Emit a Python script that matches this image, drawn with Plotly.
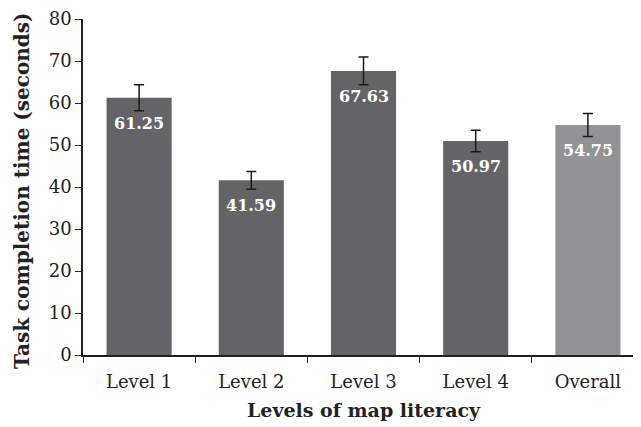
import plotly.graph_objects as go

# values
categories = ["Level 1", "Level 2", "Level 3", "Level 4", "Overall"]
times = [61.25, 41.59, 67.63, 50.97, 54.75]
errors = [3.1, 2.1, 3.3, 2.55, 2.75]
colors = ["#646466", "#646466", "#646466", "#646466", "#939396"]

FONT = "DejaVu Serif"

fig = go.Figure()
fig.add_trace(go.Bar(
    x=categories, y=times,
    marker=dict(color=colors, line=dict(width=0)),
    error_y=dict(type="data", array=errors, color="#1a1a1a", thickness=1.5, width=5),
    hoverinfo="skip",
))

# value labels just under the top of each bar
for c, v in zip(categories, times):
    fig.add_annotation(x=c, y=v, text=f"<b>{v:.2f}</b>", showarrow=False,
                       yanchor="top", yshift=-14,
                       font=dict(family=FONT, size=16, color="white"))

# y title as an annotation so it can sit close to the page edge
fig.add_annotation(text="<b>Task completion time (seconds)</b>", textangle=-90,
                   xref="paper", yref="paper", x=0, y=0.5, xanchor="center", yanchor="middle",
                   xshift=-61, yshift=-4, showarrow=False,
                   font=dict(family=FONT, size=20, color="#222222"))

# page body has an 8px margin, so the margins are trimmed by that much
fig.update_layout(
    width=641, height=427,
    margin=dict(l=75, r=5, t=11, b=80),
    plot_bgcolor="white", paper_bgcolor="white",
    bargap=0.42, showlegend=False,
    font=dict(family=FONT, size=18, color="#222222"),
)
fig.update_xaxes(
    range=[-0.5, 4.5], showline=True, linecolor="#222222", linewidth=1.5,
    ticks="outside", ticklen=6, tickcolor="#222222", tickson="boundaries",
    ticklabelstandoff=10, automargin=False,
    title=dict(text="<b>Levels of map literacy</b>", font=dict(size=19), standoff=12),
)
fig.update_yaxes(
    range=[0, 80], dtick=10, showline=True, linecolor="#222222", linewidth=1.5,
    ticks="outside", ticklen=6, tickcolor="#222222", showgrid=False, zeroline=False,
    automargin=False, ticklabeloverflow="allow",
)

fig.write_html("out.html")
